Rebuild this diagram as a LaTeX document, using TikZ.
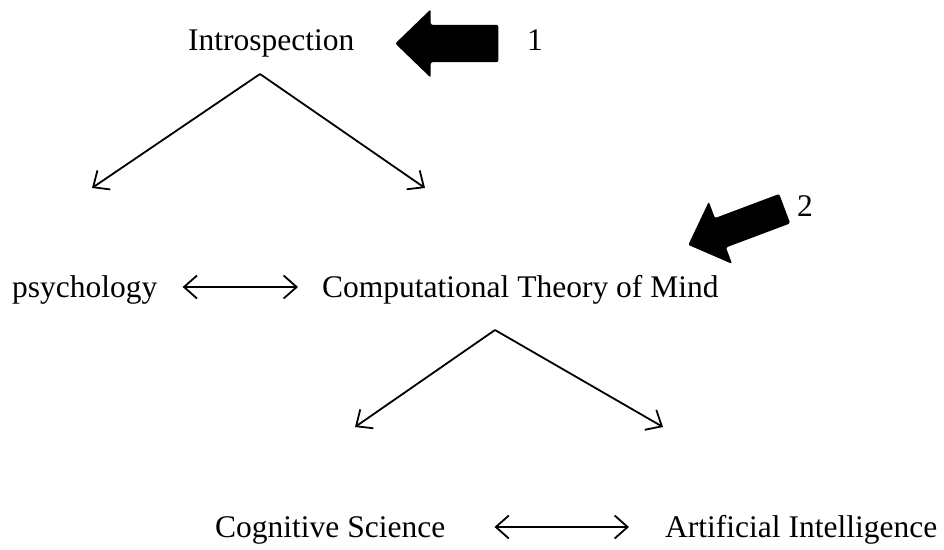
\documentclass[tikz,border=0pt]{standalone}
\usepackage{fontspec}
\setmainfont{Liberation Serif}
\usepackage{tikz}
\usetikzlibrary{arrows.meta,shapes.arrows,calc}

\begin{document}
\begin{tikzpicture}[x=1pt, y=-1pt, >={Straight Barb[length=13pt,width=23pt]},
  word/.style={anchor=base west,inner sep=0pt,text height=22pt,text depth=2pt,font=\fontsize{31.5}{36}\selectfont},
  link/.style={->,line width=1.8pt},
  pair/.style={<->,line width=1.8pt},
  bigarrow/.style={single arrow,anchor=tip,fill=black,draw=none,rounded corners=2pt,inner xsep=0pt,minimum height=103pt,single arrow tip angle=88}]
\useasboundingbox (0,0) rectangle (944,549);
\node[word] (intro) at (188,50) {Introspection};
\node[word] (psych) at (12,297) {psychology};
\node[word] (ctm) at (322,297) {Computational Theory of Mind};
\node[word] (cogsci) at (215,537) {Cognitive Science};
\node[word] (ai) at (665,537) {Artificial Intelligence};
\node[word] (one) at (527,50) {1};
\node[word] (two) at (797,216) {2};
\node[bigarrow,inner ysep=18.5pt,single arrow head extend=15.5pt,rotate=180] (mark1) at (395,43.5) {};
\node[bigarrow,inner ysep=15.5pt,single arrow head extend=17.5pt,rotate=200.6] (mark2) at (688,245) {};
% forks
\coordinate (introfork) at (260,74);
\coordinate (psychtop) at (92,188);
\coordinate (ctmtop) at (425,188);
\coordinate (ctmfork) at (495,330);
\coordinate (cogtop) at (355,427);
\coordinate (aitop) at (663,427);
\draw[link] (introfork) -- (psychtop);
\draw[link] (introfork) -- (ctmtop);
\draw[link] (ctmfork) -- (cogtop);
\draw[link] (ctmfork) -- (aitop);
\draw[pair,shorten <=25pt,shorten >=24pt] (psych.east) -- (ctm.west);
\draw[pair,shorten <=49pt,shorten >=36pt] (cogsci.east) -- (ai.west);
\end{tikzpicture}
\end{document}
